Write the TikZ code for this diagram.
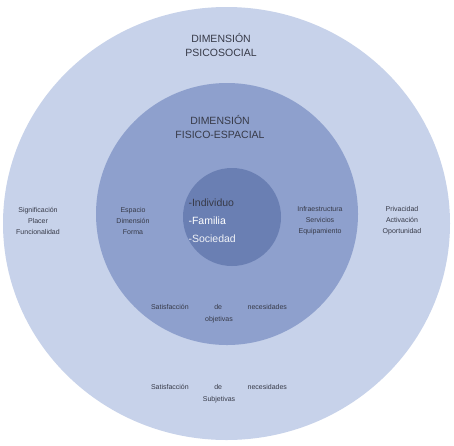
\documentclass[tikz,border=0pt]{standalone}
\usepackage{fontspec}
\setmainfont{Liberation Sans}
\usetikzlibrary{shapes.geometric}
\definecolor{psico}{RGB}{199,210,234}
\definecolor{fisico}{RGB}{142,160,205}
\definecolor{nucleo}{RGB}{106,127,179}
\definecolor{txt}{RGB}{55,58,72}
\begin{document}
\begin{tikzpicture}[
    x=1pt, y=-1pt,
    ring/.style={ellipse, draw=none, inner sep=0pt},
    %% Titulo de dimension
    dimlbl/.style={align=center, text=txt, font=\fontsize{10.5}{14.5}\selectfont},
    %% Atributos (tres lineas)
    attlbl/.style={align=center, text=txt, font=\fontsize{7}{11}\selectfont},
    %% Satisfaccion de necesidades
    satlbl/.style={align=center, text=txt, font=\fontsize{7}{12}\selectfont}
]
\useasboundingbox (0,0) rectangle (454,445);
\fill[white] (0,0) rectangle (454,445);

%% Circulos
\node[ring, fill=psico, minimum width=447pt, minimum height=433pt] (psic) at (226.5,223.5) {};
\node[ring, fill=fisico, minimum width=262pt, minimum height=262pt] (fisi) at (227,214) {};
\node[ring, fill=nucleo, minimum width=98pt, minimum height=98pt] (nucl) at (232,217) {};

%% Dimensiones
\node[dimlbl] (tpsic) at (221,45) {DIMENSIÓN\\PSICOSOCIAL};
\node[dimlbl] (tfisi) at (220,127) {DIMENSIÓN\\FISICO-ESPACIAL};

%% Nucleo
\node[align=left, anchor=west, font=\fontsize{10.5}{18}\selectfont] (tnucl) at (185,221)
    {\textcolor{txt}{-Individuo}\\\textcolor{white}{-Familia}\\\textcolor{white!90!nucleo}{-Sociedad}};

%% Atributos
\node[attlbl] (aizq) at (38,221) {Significación\\Placer\\Funcionalidad};
\node[attlbl] (bizq) at (133,221) {Espacio\\Dimensión\\Forma};
\node[attlbl] (bder) at (320,221) {Infraestructura\\Servicios\\Equipamiento};
\node[attlbl] (ader) at (402,221) {Privacidad\\Activación\\Oportunidad};

%% Necesidades
\node[satlbl] (sobj) at (219,314)
    {\makebox[136pt][s]{Satisfacción de necesidades}\\objetivas};
\node[satlbl] (ssub) at (219,394)
    {\makebox[136pt][s]{Satisfacción de necesidades}\\Subjetivas};
\end{tikzpicture}
\end{document}
